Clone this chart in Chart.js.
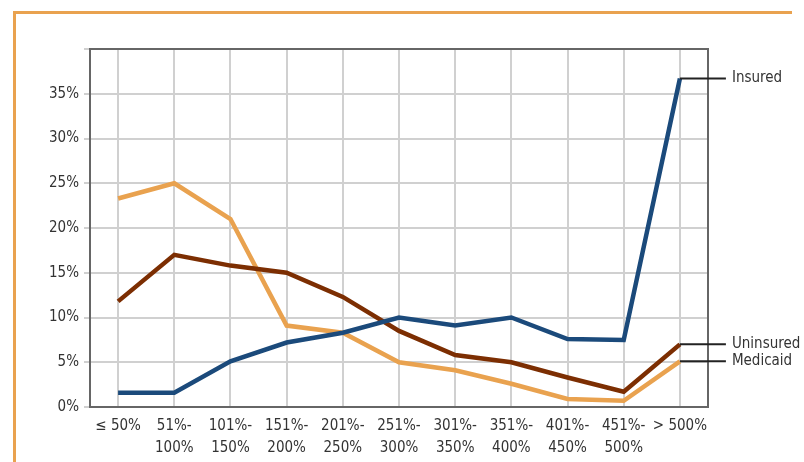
<!DOCTYPE html>
<html>
<head>
<meta charset="utf-8">
<script src="https://cdn.jsdelivr.net/npm/chart.js@4.4.1/dist/chart.umd.min.js"></script>
<style>
  html, body { margin: 0; padding: 0; background: #fff; }
  #wrap { position: relative; width: 804px; height: 462px; }
  #frameTop { position: absolute; left: 13px; top: 11px; width: 779px; height: 3px; background: #e9a24f; }
  #frameLeft { position: absolute; left: 13px; top: 11px; width: 3px; height: 451px; background: #e9a24f; }
  canvas { position: absolute; left: 0; top: 0; }
</style>
</head>
<body>
<div id="wrap">
  <canvas id="chart" width="804" height="462"></canvas>
  <div id="frameTop"></div>
  <div id="frameLeft"></div>
</div>
<script>
const categories = [
  ['\u2264 50%'], ['51%-', '100%'], ['101%-', '150%'], ['151%-', '200%'],
  ['201%-', '250%'], ['251%-', '300%'], ['301%-', '350%'], ['351%-', '400%'],
  ['401%-', '450%'], ['451%-', '500%'], ['> 500%']
];
const insured   = [1.6, 1.6, 5.1, 7.2, 8.3, 10.0, 9.1, 10.0, 7.6, 7.5, 36.7];
const uninsured = [11.8, 17.0, 15.8, 15.0, 12.3, 8.5, 5.8, 5.0, 3.3, 1.7, 7.0];
const medicaid  = [23.3, 25.0, 21.0, 9.1, 8.3, 5.0, 4.1, 2.6, 0.9, 0.7, 5.1];
const seriesNames = ['Insured', 'Uninsured', 'Medicaid'];

const FONT = '"DejaVu Sans Condensed", "Liberation Sans Narrow", sans-serif';

// dark frame round the plot area
const framePlugin = {
  id: 'frame',
  beforeDatasetsDraw(chart) {
    const a = chart.chartArea;
    const ctx = chart.ctx;
    ctx.save();
    ctx.strokeStyle = '#666';
    ctx.lineWidth = 2;
    ctx.strokeRect(a.left, a.top, a.right - a.left, a.bottom - a.top);
    ctx.restore();
  }
};

// labels at the end of each line, joined by a short black leader
const endLabels = {
  id: 'endLabels',
  afterDatasetsDraw(chart) {
    const ctx = chart.ctx;
    ctx.save();
    ctx.font = '15px ' + FONT;
    ctx.fillStyle = '#333';
    ctx.textBaseline = 'middle';
    chart.data.datasets.forEach((ds, i) => {
      const meta = chart.getDatasetMeta(i);
      const pt = meta.data[meta.data.length - 1];
      ctx.strokeStyle = '#222';
      ctx.lineWidth = 2;
      ctx.beginPath();
      ctx.moveTo(pt.x, pt.y);
      ctx.lineTo(pt.x + 46, pt.y);
      ctx.stroke();
      ctx.fillText(ds.label, pt.x + 52, pt.y);
    });
    ctx.restore();
  }
};

const ctx = document.getElementById('chart').getContext('2d');
const chart = new Chart(ctx, {
  type: 'line',
  data: {
    labels: categories,
    datasets: [
      { label: seriesNames[0], data: insured, borderColor: '#1b4a7b' },
      { label: seriesNames[1], data: uninsured, borderColor: '#7c2e02' },
      { label: seriesNames[2], data: medicaid, borderColor: '#e9a24f' }
    ]
  },
  options: {
    responsive: false,
    animation: false,
    layout: { padding: { left: 0, right: 96, top: 49, bottom: 0 } },
    elements: {
      line: { borderWidth: 4.5, tension: 0, borderJoinStyle: 'miter' },
      point: { radius: 0 }
    },
    plugins: { legend: { display: false }, tooltip: { enabled: false } },
    scales: {
      x: {
        offset: true,
        grid: { color: '#d0d0d0', lineWidth: 2, drawTicks: false, offset: false },
        border: { display: false },
        ticks: { color: '#333', font: { family: FONT, size: 15, lineHeight: 1.45 }, padding: 8, maxRotation: 0, autoSkip: false },
        afterFit(scale) { scale.height = 55; }
      },
      y: {
        min: 0, max: 40,
        grid: { color: '#d0d0d0', lineWidth: 2, tickLength: 6 },
        border: { display: false },
        ticks: {
          stepSize: 5, color: '#333', font: { family: FONT, size: 15 }, padding: 5,
          callback: v => v === 40 ? '' : v + '%'
        },
        afterFit(scale) { scale.width = 90; }
      }
    }
  },
  plugins: [framePlugin, endLabels]
});
</script>
</body>
</html>
